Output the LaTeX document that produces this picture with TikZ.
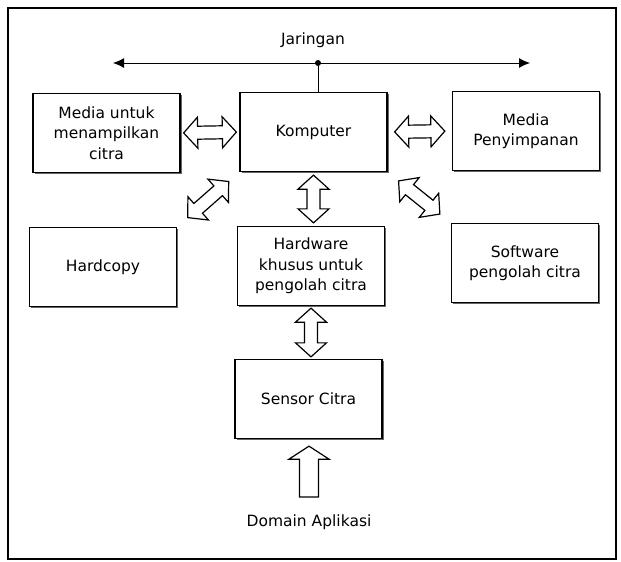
\documentclass[tikz,border=0pt]{standalone}
\usepackage{fontspec}
\setmainfont{DejaVu Sans}
\usetikzlibrary{calc,positioning,arrows.meta,shadows}

\tikzset{
    blok/.style={draw, line width=1.3pt, fill=white,
        minimum width=147pt, minimum height=79pt, align=center,
        font=\fontsize{15.5}{20.5}\selectfont,
        drop shadow={shadow xshift=1.8pt, shadow yshift=-1.8pt, fill=black!60, opacity=1}},
    hollow/.style={draw, line width=1.2pt, fill=white, line join=miter},
    teks/.style={font=\fontsize{15.5}{18}\selectfont},
}
% hollow double arrow between two points, cut back by #1 at each end
\newcommand\dblarrow[3][4]{%
  \draw[hollow] let \p1=(#2), \p2=(#3),
      \n1={atan2(\y2-\y1,\x2-\x1)}, \n2={veclen(\x2-\x1,\y2-\y1)} in
    [shift={(\p1)}, rotate=\n1]
    (#1pt,0pt) -- ({#1pt+14pt},15.5pt) -- ({#1pt+14pt},6.5pt)
    -- ({\n2-#1pt-14pt},6.5pt) -- ({\n2-#1pt-14pt},15.5pt) -- ({\n2-#1pt},0pt)
    -- ({\n2-#1pt-14pt},-15.5pt) -- ({\n2-#1pt-14pt},-6.5pt)
    -- ({#1pt+14pt},-6.5pt) -- ({#1pt+14pt},-15.5pt) -- cycle;
}

\begin{document}
\begin{tikzpicture}[x=1pt,y=-1pt]
\useasboundingbox (0,0) rectangle (621,562);
\draw[line width=2pt] (8,8) rectangle (616,559);

% blocks
\node[blok] (media)    at (106.5,133) {Media untuk\\menampilkan\\citra};
\node[blok] (komp)     at (313.5,132) {Komputer};
\node[blok] (simpan)   at (526,131)   {Media\\Penyimpanan};
\node[blok] (hardcopy) at (103,267)   {Hardcopy};
\node[blok] (hw)       at (311,266)   {Hardware\\khusus untuk\\pengolah citra};
\node[blok] (sw)       at (525,263)   {Software\\pengolah citra};
\node[blok] (sensor)   at (308.5,399) {Sensor Citra};

% network
\node[teks] (jar) at (313,40) {Jaringan};
\coordinate (netL) at (113,63);
\coordinate (netR) at (530,63);
\node[circle, fill, inner sep=0pt, minimum size=6pt] (hub) at (318,63) {};
\draw[line width=1pt, {Latex[length=11pt,width=10pt]}-{Latex[length=11pt,width=10pt]}] (netL) -- (netR);
\draw[line width=1pt] (hub) -- (hub |- komp.north);

% links
\dblarrow[3]{media.east}{komp.west}
\dblarrow[7]{komp.east}{simpan.west}
\dblarrow[3]{komp.south}{komp.south |- hw.north}
\dblarrow[2]{hw.south}{hw.south |- sensor.north}
\dblarrow[14]{hardcopy.north east}{komp.south west}
\dblarrow[14]{komp.south east}{sw.north west}

% input
\node[teks] (domain) at (309,522) {Domain Aplikasi};
\draw[hollow] let \p1=(domain.north), \p2=(sensor.south) in
    (\x1-9.5pt,\y1+14pt) -- (\x1+9.5pt,\y1+14pt) -- (\x1+9.5pt,\y2-20pt)
    -- (\x1+20pt,\y2-20pt) -- (\x1,\y2-7pt) -- (\x1-20pt,\y2-20pt)
    -- (\x1-9.5pt,\y2-20pt) -- cycle;
\end{tikzpicture}
\end{document}
